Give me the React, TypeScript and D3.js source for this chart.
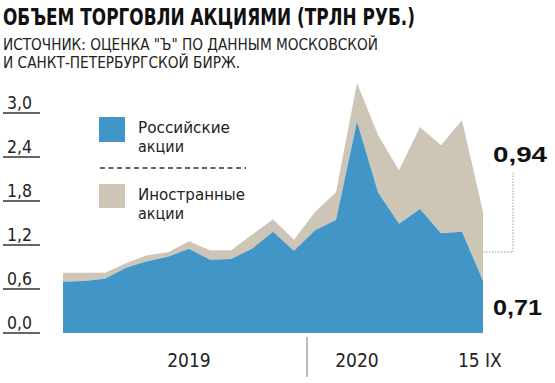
import React from "react";
import * as d3 from "d3";

const months = d3.range(21);
const russian = [0.70, 0.71, 0.74, 0.89, 0.98, 1.04, 1.15, 1.00, 1.01, 1.15, 1.38, 1.12, 1.40, 1.54, 2.88, 1.92, 1.49, 1.69, 1.36, 1.38, 0.71];
const foreign = [0.12, 0.11, 0.08, 0.06, 0.08, 0.06, 0.10, 0.13, 0.12, 0.19, 0.17, 0.15, 0.25, 0.38, 0.53, 0.78, 0.73, 1.12, 1.20, 1.52, 0.94];
const yTicks = [0, 0.6, 1.2, 1.8, 2.4, 3.0];
const xLabels = [
  { text: "2019", at: 6 },
  { text: "2020", at: 14 },
  { text: "15 IX", at: 19.85 },
];
const dividerAt = 11.62;
const lastRus = "0,71";
const lastForeign = "0,94";

const BLUE = "#4296c7";
const BEIGE = "#cdc6b7";
const NARROW = "'Liberation Sans Narrow', 'DejaVu Sans Condensed', 'Liberation Sans', sans-serif";
const BOLD = "'Liberation Sans', Arial, sans-serif";

export default function App() {
  const W = 555, H = 383;
  const x = d3.scaleLinear().domain([0, 20]).range([63, 483]);
  const y = d3.scaleLinear().domain([0, 3]).range([333, 113]);
  const data = months.map((m, i) => ({ m, rus: russian[i], foreign: foreign[i] }));
  const series = d3.stack<any>().keys(["rus", "foreign"])(data);
  const area = d3
    .area<any>()
    .x((d) => x(d.data.m))
    .y0((d) => y(d[0]))
    .y1((d) => y(d[1]));
  const lastI = months.length - 1;
  const endX = x(months[lastI]);
  const bracketY = y(russian[lastI] + foreign[lastI] * 0.42);

  return (
    <svg width={W} height={H} style={{ position: "absolute", left: 0, top: 0, background: "#fff" }}>
      <rect x={0} y={0} width={W} height={H} fill="#fff" />
      {/* title */}
      <text x={3} y={25} fontFamily={NARROW} fontWeight="bold" fontSize={22.5} fill="#111" textLength={412} lengthAdjust="spacingAndGlyphs">
        ОБЪЕМ ТОРГОВЛИ АКЦИЯМИ (ТРЛН РУБ.)
      </text>
      <text x={3} y={50} fontFamily={NARROW} fontSize={16.5} fill="#222" textLength={375} lengthAdjust="spacingAndGlyphs">
        ИСТОЧНИК: ОЦЕНКА "Ъ" ПО ДАННЫМ МОСКОВСКОЙ
      </text>
      <text x={3} y={68} fontFamily={NARROW} fontSize={16.5} fill="#222" textLength={237} lengthAdjust="spacingAndGlyphs">
        И САНКТ-ПЕТЕРБУРГСКОЙ БИРЖ.
      </text>

      {/* areas */}
      <path d={area(series[1] as any) || ""} fill={BEIGE} />
      <path d={area(series[0] as any) || ""} fill={BLUE} />

      {/* y ticks */}
      {yTicks.map((v) => (
        <g key={v}>
          <line x1={3} x2={40} y1={y(v)} y2={y(v)} stroke="#333" strokeWidth={1.3} />
          <text x={19.5} y={y(v) - 4} textAnchor="middle" fontFamily={NARROW} fontSize={18} fill="#222" textLength={25} lengthAdjust="spacingAndGlyphs">
            {v.toFixed(1).replace(".", ",")}
          </text>
        </g>
      ))}

      {/* legend */}
      <rect x={99} y={117} width={26} height={25} fill={BLUE} />
      <text x={138} y={133} fontFamily={NARROW} fontSize={16.5} fill="#222" textLength={92} lengthAdjust="spacingAndGlyphs">Российские</text>
      <text x={138} y={152} fontFamily={NARROW} fontSize={16.5} fill="#222" textLength={46} lengthAdjust="spacingAndGlyphs">акции</text>
      <line x1={100} x2={246} y1={168} y2={168} stroke="#333" strokeWidth={1.4} strokeDasharray="5 3.5" />
      <rect x={99} y={184} width={26} height={24} fill={BEIGE} />
      <text x={138} y={200} fontFamily={NARROW} fontSize={16.5} fill="#222" textLength={107} lengthAdjust="spacingAndGlyphs">Иностранные</text>
      <text x={138} y={219} fontFamily={NARROW} fontSize={16.5} fill="#222" textLength={46} lengthAdjust="spacingAndGlyphs">акции</text>

      {/* end labels */}
      <path d={`M${endX},${bracketY}H${endX + 30}V${173}`} fill="none" stroke="#999" strokeWidth={1} strokeDasharray="1.5 1.5" />
      <text x={493} y={162} fontFamily={BOLD} fontWeight="bold" fontSize={22} fill="#111" textLength={54} lengthAdjust="spacingAndGlyphs">{lastForeign}</text>
      <text x={493} y={315} fontFamily={BOLD} fontWeight="bold" fontSize={22} fill="#111" textLength={49} lengthAdjust="spacingAndGlyphs">{lastRus}</text>

      {/* x axis */}
      <line x1={x(dividerAt)} x2={x(dividerAt)} y1={337} y2={377} stroke="#777" strokeWidth={1} />
      {xLabels.map((l) => (
        <text key={l.text} x={x(l.at)} y={367} textAnchor="middle" fontFamily={NARROW} fontSize={19} fill="#222">
          {l.text}
        </text>
      ))}
    </svg>
  );
}
